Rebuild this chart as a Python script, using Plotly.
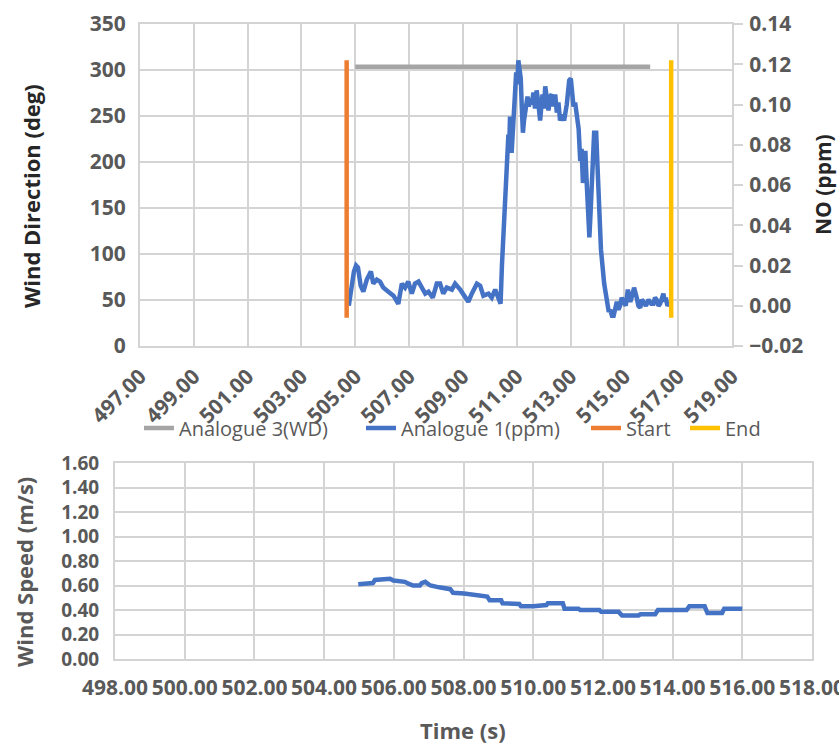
import plotly.graph_objects as go

# ---------------- data ----------------
no_time = [504.76, 504.81, 504.87, 504.95, 505.03, 505.10, 505.20, 505.30, 505.43, 505.58,
           505.67, 505.80, 505.92, 506.04, 506.23, 506.42, 506.60, 506.73, 506.85, 506.97,
           507.10, 507.22, 507.35, 507.47, 507.60, 507.72, 507.88, 508.03, 508.15, 508.27,
           508.40, 508.59, 508.71, 508.90, 509.08, 509.20, 509.33, 509.52, 509.64, 509.76,
           509.95, 510.07, 510.20, 510.32, 510.40, 510.45, 510.53, 510.63, 510.69, 510.72,
           510.75, 510.78, 510.81, 510.85, 510.88, 510.93, 510.98, 511.02, 511.06, 511.10,
           511.15, 511.19, 511.23, 511.27, 511.31, 511.35, 511.40, 511.45, 511.50, 511.56,
           511.62, 511.68, 511.74, 511.80, 511.87, 511.92, 511.96, 512.01, 512.06, 512.12,
           512.18, 512.24, 512.30, 512.36, 512.43, 512.49, 512.55, 512.61, 512.68, 512.76,
           512.81, 512.86, 512.95, 513.01, 513.06, 513.11, 513.17, 513.23, 513.30, 513.36,
           513.41, 513.46, 513.50, 513.55, 513.59, 513.63, 513.70, 513.74, 513.79, 513.84,
           513.88, 513.92, 513.95, 514.00, 514.04, 514.13, 514.25, 514.37, 514.42, 514.47,
           514.54, 514.60, 514.66, 514.72, 514.78, 514.84, 514.90, 514.97, 515.05, 515.13,
           515.22, 515.29, 515.36, 515.46, 515.52, 515.59, 515.65, 515.71, 515.80, 515.90,
           516.00, 516.08, 516.14, 516.20, 516.27, 516.33, 516.39, 516.45, 516.50, 516.54,
           516.60, 516.65]
no_ppm = [0.000, 0.004, 0.011, 0.017, 0.020, 0.019, 0.010, 0.007, 0.013, 0.017,
          0.011, 0.013, 0.012, 0.009, 0.007, 0.005, 0.001, 0.011, 0.009, 0.012,
          0.006, 0.011, 0.012, 0.009, 0.006, 0.007, 0.004, 0.011, 0.011, 0.006,
          0.009, 0.008, 0.011, 0.008, 0.004, 0.002, 0.006, 0.011, 0.010, 0.005,
          0.006, 0.004, 0.008, 0.003, 0.001, 0.020, 0.040, 0.063, 0.085, 0.078,
          0.094, 0.090, 0.076, 0.083, 0.094, 0.104, 0.116, 0.110, 0.122, 0.117,
          0.113, 0.098, 0.086, 0.092, 0.097, 0.101, 0.104, 0.099, 0.103, 0.100,
          0.106, 0.098, 0.107, 0.101, 0.092, 0.100, 0.105, 0.098, 0.109, 0.103,
          0.097, 0.104, 0.105, 0.099, 0.105, 0.096, 0.101, 0.092, 0.095, 0.092,
          0.096, 0.100, 0.112, 0.113, 0.106, 0.099, 0.101, 0.096, 0.088, 0.072,
          0.078, 0.061, 0.070, 0.077, 0.064, 0.052, 0.034, 0.045, 0.061, 0.080,
          0.087, 0.080, 0.087, 0.070, 0.052, 0.028, 0.011, 0.001, -0.003, -0.002,
          -0.005, -0.005, 0.000, 0.002, -0.002, 0.000, 0.004, 0.002, 0.000, 0.008,
          0.002, 0.005, 0.009, 0.004, 0.000, -0.001, 0.003, 0.002, 0.000, 0.003,
          0.001, 0.001, 0.004, 0.003, 0.000, 0.001, 0.003, 0.006, 0.002, 0.004,
          0.000, 0.001]

wd_time = [505.00, 507.00, 509.00, 511.00, 513.00, 515.00, 515.96]
wd_deg = [303.5, 303.5, 303.5, 303.5, 303.5, 303.5, 303.5]

start_time = [504.68, 504.68]
end_time = [516.74, 516.74]
marker_ppm = [-0.006, 0.122]

ws_time = [504.98, 505.22, 505.40, 505.46, 505.89, 505.99, 506.32, 506.42, 506.55, 506.75,
           506.80, 506.90, 507.05, 507.30, 507.62, 507.70, 508.02, 508.68, 508.75, 509.08,
           509.12, 509.60, 509.65, 510.00, 510.38, 510.42, 510.85, 510.90, 511.30, 511.35,
           511.90, 511.95, 512.45, 512.55, 513.02, 513.08, 513.50, 513.58, 514.40, 514.48,
           514.92, 515.00, 515.42, 515.48, 516.00]
ws_ms = [0.61, 0.615, 0.62, 0.645, 0.655, 0.64, 0.63, 0.615, 0.60, 0.60,
         0.62, 0.63, 0.60, 0.585, 0.57, 0.54, 0.535, 0.51, 0.48, 0.48,
         0.455, 0.45, 0.43, 0.43, 0.44, 0.455, 0.455, 0.41, 0.41, 0.40,
         0.40, 0.385, 0.385, 0.355, 0.355, 0.365, 0.365, 0.40, 0.40, 0.43,
         0.43, 0.375, 0.375, 0.41, 0.41]

top_x_range = [497, 519]
bot_x_range = [498, 518]

# ---------------- style ----------------
W, H = 839, 744
GRID = "#d4d4d4"
TICK = "#595959"
FONT = "Open Sans"
tickfont = dict(family=FONT, size=21, color=TICK, weight="bold")
tickfont_small = dict(family=FONT, size=19, color=TICK, weight="bold")
LW = 4.5

def px_x(p):
    return p / W

def px_y(p):
    return 1 - p / H

fig = go.Figure()

fig.add_trace(go.Scatter(x=wd_time, y=wd_deg, mode="lines", name="Analogue 3(WD)",
                         line=dict(color="#A5A5A5", width=LW), xaxis="x", yaxis="y",
                         legend="legend"))
fig.add_trace(go.Scatter(x=no_time, y=no_ppm, mode="lines", name="Analogue 1(ppm)",
                         line=dict(color="#4472C4", width=LW), xaxis="x", yaxis="y2",
                         legend="legend2"))
fig.add_trace(go.Scatter(x=start_time, y=marker_ppm, mode="lines", name="Start",
                         line=dict(color="#ED7D31", width=LW), xaxis="x", yaxis="y2",
                         legend="legend3"))
fig.add_trace(go.Scatter(x=end_time, y=marker_ppm, mode="lines", name="End",
                         line=dict(color="#FFC000", width=LW), xaxis="x", yaxis="y2",
                         legend="legend4"))
fig.add_trace(go.Scatter(x=ws_time, y=ws_ms, mode="lines", showlegend=False,
                         line=dict(color="#4472C4", width=LW), xaxis="x2", yaxis="y3"))

axis_common = dict(showgrid=True, gridcolor=GRID, gridwidth=2, showline=True,
                   linecolor=GRID, linewidth=2, mirror=True, zeroline=False,
                   fixedrange=True, automargin=False)

def legend_at(xpx):
    return dict(orientation="h", x=px_x(xpx), y=px_y(428), xanchor="left", yanchor="middle",
                font=dict(family=FONT, size=20, color=TICK), bgcolor="rgba(0,0,0,0)",
                itemwidth=30, borderwidth=0)

fig.update_layout(
    width=W, height=H, margin=dict(l=0, r=0, t=0, b=0, autoexpand=False),
    paper_bgcolor="white", plot_bgcolor="white",
    showlegend=True,
    legend=legend_at(139),
    legend2=legend_at(361),
    legend3=legend_at(586),
    legend4=legend_at(685),
    xaxis=dict(domain=[px_x(140), px_x(732)], range=top_x_range, dtick=2, tick0=497,
               tickformat=".2f", tickangle=-45, anchor="y", ticklabelstandoff=8,
               tickfont=tickfont, **axis_common),
    yaxis=dict(domain=[px_y(346), px_y(24)], range=[0, 350], dtick=50, anchor="x",
               ticklabelstandoff=8, tickfont=tickfont, **axis_common),
    yaxis2=dict(range=[-0.02, 0.14], dtick=0.02, tickformat=".2f", overlaying="y",
                side="right", anchor="x", showgrid=False, showline=True, linecolor=GRID,
                linewidth=2, ticks="outside", ticklen=9, tickwidth=2, tickcolor=GRID,
                zeroline=False, tickfont=tickfont, fixedrange=True, ticklabelstandoff=2,
                automargin=False),
    xaxis2=dict(domain=[px_x(115), px_x(812)], range=bot_x_range, dtick=2, tick0=498,
                tickformat=".2f", tickangle=0, anchor="y3", ticklabelstandoff=9,
                ticklabeloverflow="allow", tickfont=tickfont, **axis_common),
    yaxis3=dict(domain=[px_y(659), px_y(463)], range=[0, 1.6], dtick=0.2, tickformat=".2f",
                anchor="x2", ticklabelstandoff=10, tickfont=tickfont_small, **axis_common),
)

title_font_dark = dict(family=FONT, size=22, color="#262626", weight="bold")
title_font_gray = dict(family=FONT, size=22, color=TICK, weight="bold")

fig.add_annotation(text="Wind Direction (deg)", x=px_x(31), y=px_y(196), xref="paper",
                   yref="paper", showarrow=False, textangle=-90, font=title_font_dark,
                   xanchor="center", yanchor="middle")
fig.add_annotation(text="NO (ppm)", x=px_x(823), y=px_y(185), xref="paper",
                   yref="paper", showarrow=False, textangle=-90,
                   font=dict(family=FONT, size=21, color="#262626", weight="bold"),
                   xanchor="center", yanchor="middle")
fig.add_annotation(text="Wind Speed (m/s)", x=px_x(24), y=px_y(572), xref="paper",
                   yref="paper", showarrow=False, textangle=-90, font=title_font_gray,
                   xanchor="center", yanchor="middle")
fig.add_annotation(text="Time (s)", x=px_x(463), y=px_y(730), xref="paper",
                   yref="paper", showarrow=False, font=title_font_gray,
                   xanchor="center", yanchor="middle")

fig.write_html("out.html")
